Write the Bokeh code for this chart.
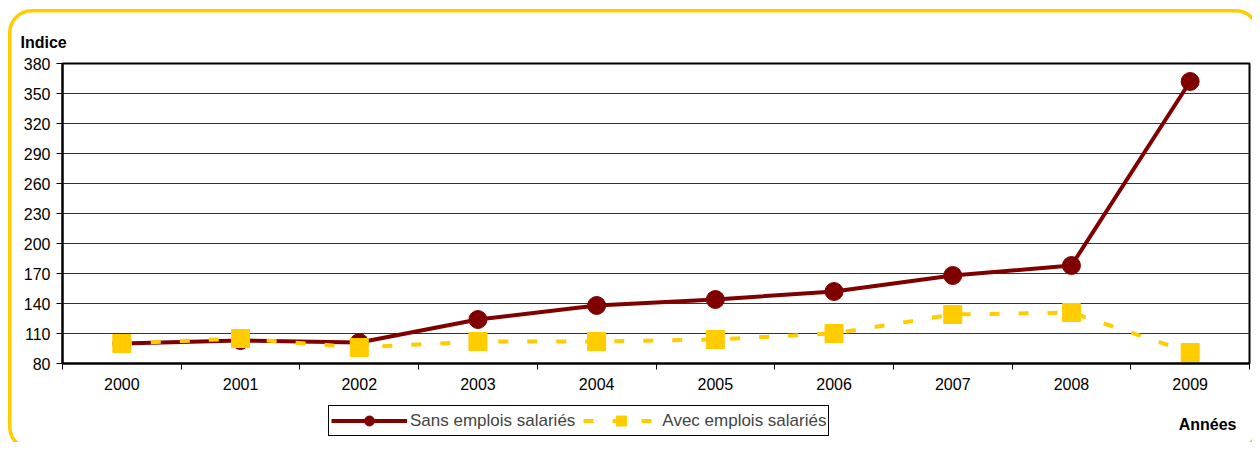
from bokeh.plotting import figure
from bokeh.layouts import column
from bokeh.models import FixedTicker, Range1d, Legend, LegendItem, Label, Title
from bokeh.embed import file_html
from bokeh.resources import INLINE

years = ["2000", "2001", "2002", "2003", "2004", "2005", "2006", "2007", "2008", "2009"]
sans = [100, 103, 101, 124, 138, 144, 152, 168, 178, 362]
avec = [100, 105, 96, 102, 102, 104, 110, 129, 131, 91]
y_ticks = [80, 110, 140, 170, 200, 230, 260, 290, 320, 350, 380]
series_names = ["Sans emplois salariés", "Avec emplois salariés"]

RED = "#800000"
YEL = "#FFCC00"
FONT = "Liberation Sans"

xs = list(range(len(years)))

frame_svg = ("url(\"data:image/svg+xml;utf8,<svg xmlns='http://www.w3.org/2000/svg' "
             "width='1252' height='442'><rect x='9.75' y='10.75' width='1248' height='438' "
             "rx='22' ry='22' fill='none' stroke='%23FFCC00' stroke-width='3.5'/></svg>\")")


def draw_series(fig):
    r1 = fig.line(xs, sans, line_color=RED, line_width=4)
    r2 = fig.scatter(xs, sans, marker="circle", size=18, fill_color=RED, line_color=RED)
    r3 = fig.line(xs, avec, line_color=YEL, line_width=4, line_dash="10 19")
    r4 = fig.scatter(xs, avec, marker="square", size=18, fill_color=YEL, line_color=YEL)
    return r1, r2, r3, r4


# ---------------- main chart ----------------
p = figure(width=1252, height=400, output_backend="svg", toolbar_location=None,
           x_range=Range1d(-0.5, len(years) - 0.5), y_range=Range1d(y_ticks[0], y_ticks[-1]),
           min_border_left=62, min_border_right=3, min_border_top=63, min_border_bottom=37,
           background_fill_color="white", border_fill_color="white", border_fill_alpha=0)

p.outline_line_color = "black"
p.outline_line_width = 2
p.outline_line_alpha = 1

p.xaxis.ticker = FixedTicker(ticks=xs, minor_ticks=[i - 0.5 for i in range(len(years) + 1)])
p.xaxis.major_label_overrides = {i: y for i, y in enumerate(years)}
p.xaxis.major_tick_out = 0
p.xaxis.major_tick_in = 0
p.xaxis.minor_tick_out = 6
p.xaxis.minor_tick_in = 0
p.xaxis.minor_tick_line_color = "black"
p.xaxis.minor_tick_line_width = 1
p.xaxis.major_label_standoff = 8

p.yaxis.ticker = FixedTicker(ticks=y_ticks, minor_ticks=[])
p.yaxis.major_tick_out = 6
p.yaxis.major_tick_in = 0
p.yaxis.major_label_standoff = 6

for ax in (p.xaxis[0], p.yaxis[0]):
    ax.axis_line_color = "black"
    ax.axis_line_width = 2
    ax.major_tick_line_color = "black"
    ax.major_label_text_font = FONT
    ax.major_label_text_font_size = "16px"
    ax.major_label_text_color = "black"

p.xgrid.visible = False
p.ygrid.grid_line_color = "#333333"
p.ygrid.grid_line_width = 1

draw_series(p)

p.add_layout(Title(text="Indice", align="left", offset=-42, standoff=25,
                   text_font=FONT, text_font_style="bold", text_font_size="16px",
                   text_color="black"), "above")

# ---------------- legend strip (series drawn off-range, used only as legend keys) ----------------
q = figure(width=1252, height=42, output_backend="svg", toolbar_location=None,
           x_range=Range1d(1000, 1001), y_range=Range1d(1000, 1001),
           min_border_left=62, min_border_right=3, min_border_top=2, min_border_bottom=2,
           background_fill_alpha=0, border_fill_alpha=0, outline_line_color=None)
q.xaxis.visible = False
q.yaxis.visible = False
q.grid.visible = False

ql1, qc1, ql2, qc2 = draw_series(q)

legend = Legend(items=[LegendItem(label=series_names[0], renderers=[ql1, qc1]),
                       LegendItem(label=series_names[1], renderers=[ql2, qc2])],
                location=(266, 4), orientation="horizontal",
                border_line_color="black", border_line_width=1, border_line_alpha=1,
                background_fill_color="white", background_fill_alpha=1,
                padding=2, spacing=8, margin=0, glyph_width=76, glyph_height=25,
                label_standoff=3, label_text_font=FONT, label_text_font_size="17px",
                label_height=20)
q.add_layout(legend)

q.add_layout(Label(x=1236, y=24, x_units="canvas", y_units="canvas", text="Années",
                   text_font=FONT, text_font_style="bold", text_font_size="16px",
                   text_baseline="middle", text_align="right", text_color="black"))

layout = column(p, q, spacing=0,
                styles={"background-image": frame_svg, "background-repeat": "no-repeat",
                        "background-color": "white"})

open("out.html", "w").write(file_html(layout, INLINE))
